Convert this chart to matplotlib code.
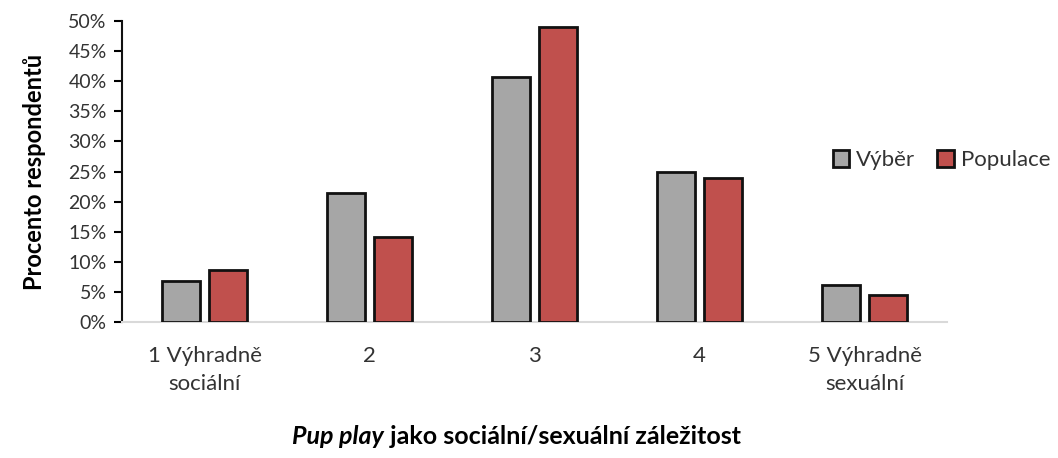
import numpy as np
import matplotlib
matplotlib.use("Agg")
import matplotlib.pyplot as plt
from matplotlib.ticker import PercentFormatter

categories = ["1 Výhradně\nsociální", "2", "3", "4", "5 Výhradně\nsexuální"]
vyber = [6.8, 21.4, 40.7, 24.9, 6.1]
populace = [8.6, 14.1, 49.0, 23.9, 4.5]
series_names = ["Výběr", "Populace"]

plt.rcParams['font.family'] = ['Lato', 'DejaVu Sans']

fig = plt.figure(figsize=(10.58, 4.58), dpi=100)
ax = fig.add_axes([0.1153, 0.297, 0.78, 0.657])

x = np.arange(len(categories))
w = 0.23
ax.bar(x - 0.143, vyber, w, color="#A6A6A6", edgecolor="#111111", linewidth=2, label=series_names[0], zorder=3)
ax.bar(x + 0.143, populace, w, color="#C0504D", edgecolor="#111111", linewidth=2, label=series_names[1], zorder=3)

ax.set_xlim(-0.5, len(categories) - 0.5)
ax.set_ylim(0, 50)
ax.set_yticks(np.arange(0, 51, 5))
ax.yaxis.set_major_formatter(PercentFormatter(decimals=0))
ax.set_xticks(x)
ax.set_xticklabels(categories, fontsize=16, color="#333333", linespacing=1.5)
ax.tick_params(axis='x', length=0, pad=17)
ax.tick_params(axis='y', labelsize=14, labelcolor="#333333", length=6, width=1.5, direction='out', pad=5)

for s in ["top", "right"]:
    ax.spines[s].set_visible(False)
ax.spines["left"].set_linewidth(1.5)
ax.spines["left"].set_color("#111111")
ax.spines["bottom"].set_color("#D9D9D9")
ax.spines["bottom"].set_linewidth(1.5)

ax.set_ylabel("Procento respondentů", fontsize=17, fontweight='bold', labelpad=16)

# x label: italic part + regular bold part
t1 = fig.text(0.5, 0.03, "Pup play", fontsize=18, fontweight='bold', style='italic', ha='left', va='baseline')
t2 = fig.text(0.5, 0.03, " jako sociální/sexuální záležitost", fontsize=18, fontweight='bold', ha='left', va='baseline')
fig.canvas.draw()
r = fig.canvas.get_renderer()
w1 = t1.get_window_extent(r).width / fig.bbox.width
w2 = t2.get_window_extent(r).width / fig.bbox.width
start = 0.488 - (w1 + w2) / 2
t1.set_x(start)
t2.set_x(start + w1)

ax.legend(loc='center left', bbox_to_anchor=(0.768, 0.65), bbox_transform=fig.transFigure,
          ncol=2, frameon=False, fontsize=16, handlelength=0.75, handleheight=0.75,
          handletextpad=0.3, columnspacing=1.0, labelcolor="#333333")

fig.savefig("out.png", dpi=100)
